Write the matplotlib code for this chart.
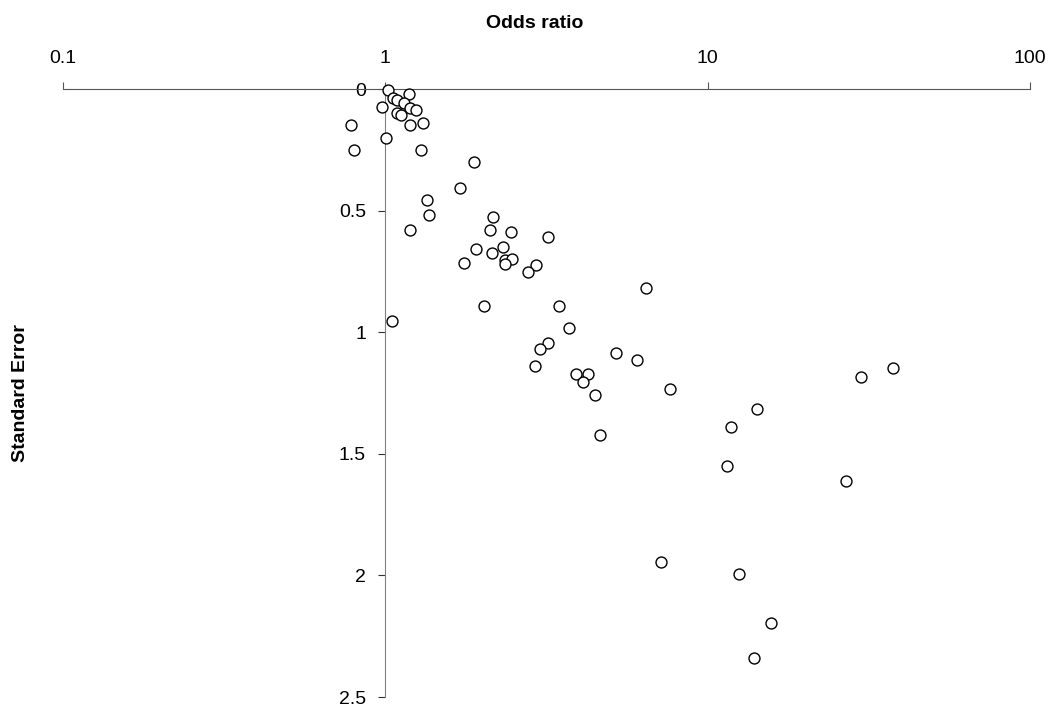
import matplotlib
matplotlib.use("Agg")
import matplotlib.pyplot as plt

plt.rcParams['font.family'] = ['Liberation Sans', 'DejaVu Sans']

odds_ratio = [1.02, 1.18, 1.06, 1.09, 0.976, 1.145, 1.195, 1.245, 1.087, 1.12,
              1.19, 1.31, 0.785, 1.007, 0.80, 1.29, 1.88, 1.70, 1.343, 1.369,
              1.19, 2.158, 2.116, 2.447, 3.19, 1.915, 2.31, 2.137, 2.355, 2.48,
              2.355, 1.75, 2.93, 2.78, 2.03, 1.049, 6.46, 3.47, 3.72, 3.20,
              3.02, 2.92, 5.20, 6.03, 3.91, 4.24, 4.10, 7.65, 4.48, 4.62,
              29.99, 37.7, 14.27, 11.83, 11.47, 26.9, 7.14, 12.55, 15.74, 13.97]
std_error = [0.004, 0.02, 0.035, 0.045, 0.073, 0.059, 0.078, 0.085, 0.10, 0.107,
             0.146, 0.14, 0.148, 0.203, 0.25, 0.25, 0.30, 0.406, 0.457, 0.52,
             0.578, 0.527, 0.578, 0.589, 0.609, 0.656, 0.65, 0.674, 0.705, 0.701,
             0.719, 0.715, 0.725, 0.754, 0.891, 0.956, 0.817, 0.891, 0.983, 1.045,
             1.068, 1.137, 1.085, 1.114, 1.172, 1.172, 1.206, 1.233, 1.257, 1.423,
             1.183, 1.148, 1.315, 1.389, 1.55, 1.612, 1.943, 1.994, 2.195, 2.338]

x_ticks = [0.1, 1, 10, 100]
x_tick_labels = ["0.1", "1", "10", "100"]
y_ticks = [0, 0.5, 1, 1.5, 2, 2.5]
y_tick_labels = ["0", "0.5", "1", "1.5", "2", "2.5"]

fig = plt.figure(figsize=(10.6, 7.09), dpi=100)
ax = fig.add_axes([63/1060, 1 - 697/709, (1030-63)/1060, (697-89)/709])

ax.scatter(odds_ratio, std_error, s=62, facecolors='white', edgecolors='black',
           linewidths=1.0, zorder=3, clip_on=False)

ax.set_xscale('log')
ax.set_xlim(0.1, 100)
ax.set_ylim(2.5, 0)
ax.set_xticks(x_ticks)
ax.set_xticklabels(x_tick_labels)
ax.minorticks_off()
ax.set_yticks(y_ticks)
ax.set_yticklabels(y_tick_labels)

spine_color = '#808080'
ax.spines['bottom'].set_visible(False)
ax.spines['right'].set_visible(False)
ax.spines['left'].set_position(('data', 1))
ax.spines['left'].set_color(spine_color)
ax.spines['top'].set_color('#555555')
ax.xaxis.set_ticks_position('top')
ax.xaxis.set_label_position('top')
ax.tick_params(axis='x', direction='out', length=5, color='#555555', labelsize=14, pad=11)
ax.tick_params(axis='y', direction='out', length=5, color='#333333', labelsize=14, pad=9)

fig.text(535/1060, 1 - 24/709, "Odds ratio", ha='center', va='center',
         fontsize=14, fontweight='bold')
fig.text(21/1060, 1 - 393/709, "Standard Error", ha='center', va='center',
         fontsize=14, fontweight='bold', rotation=90)

fig.savefig("out.png", dpi=100)
